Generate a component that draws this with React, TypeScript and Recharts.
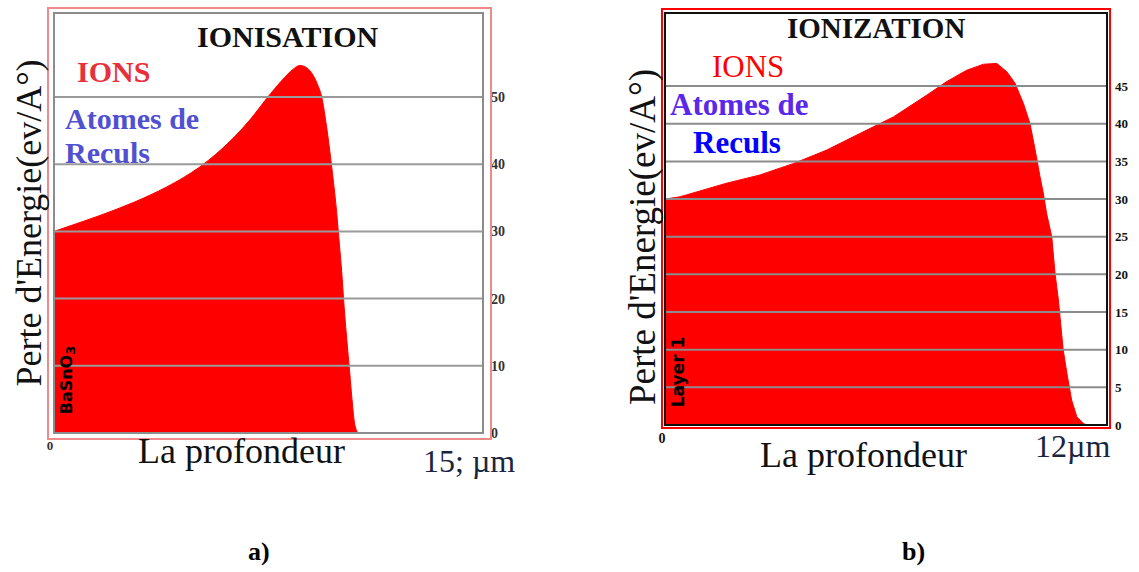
import React from 'react';
import { AreaChart, Area, XAxis, YAxis, ReferenceLine, ReferenceArea } from 'recharts';

// ---- Chart a) BaSnO3 ----
const depthA = [0, 1.03, 2.19, 3.36, 4.52, 5.1, 5.69, 6.27, 6.85, 7.44, 8.02, 8.35, 8.6, 8.85, 9.05, 9.2, 9.36, 9.53, 9.71, 9.88, 9.98, 10.06, 10.14, 10.24, 10.34, 10.42, 10.52, 10.65, 15];
const ionsA = [30, 31.5, 33.3, 35.4, 38, 39.6, 41.6, 43.9, 46.6, 49.8, 52.7, 54.1, 54.7, 54.3, 53.3, 52, 50, 45.6, 39.6, 33, 28, 24, 19, 13.8, 9, 5, 1.2, 0, 0];
const ticksA = [0, 10, 20, 30, 40, 50];

// ---- Chart b) Layer 1 ----
const depthB = [0, 0.41, 1.67, 2.58, 3.48, 4.39, 5.29, 6.2, 7.11, 7.65, 8.19, 8.65, 9.01, 9.28, 9.5, 9.73, 9.91, 10.05, 10.18, 10.27, 10.36, 10.5, 10.59, 10.68, 10.81, 10.91, 11.04, 11.18, 11.36, 11.45, 12];
const ionsB = [30, 30.3, 32.1, 33.2, 34.7, 36.5, 38.7, 40.9, 43.8, 45.6, 47.1, 47.9, 48, 46.9, 45.4, 42.7, 40, 36.5, 33, 30.8, 28.1, 25, 20.1, 16.6, 10, 6.9, 3.3, 1.1, 0.2, 0, 0];
const ticksB = [0, 5, 10, 15, 20, 25, 30, 35, 40, 45];

const dataA = depthA.map((d, i) => ({ depth: d, ions: ionsA[i] }));
const dataB = depthB.map((d, i) => ({ depth: d, ions: ionsB[i] }));

const serif = '"Liberation Serif", "Times New Roman", serif';

function ChartA() {
  return (
    <div style={{ position: 'absolute', left: 0, top: 0 }}>
      <AreaChart width={560} height={480} data={dataA} margin={{ top: 13, left: 54, right: 47, bottom: 27 }}>
        <XAxis dataKey="depth" type="number" domain={[0, 15]} ticks={[0]} tickLine={false} axisLine={false} height={20}
          tick={{ fontFamily: serif, fontWeight: 'bold', fontSize: 13, fill: '#333' }} dx={-4} />
        <YAxis orientation="right" type="number" domain={[0, 62.5]} ticks={ticksA} width={30} tickLine={false} axisLine={false}
          tick={{ fontFamily: serif, fontWeight: 'bold', fontSize: 14, fill: '#333' }} />
        <Area type="monotone" dataKey="ions" fill="#ff0000" stroke="#ff0000" fillOpacity={1} isAnimationActive={false} dot={false} activeDot={false} />
        {ticksA.slice(1).map((t) => (
          <ReferenceLine key={t} y={t} stroke="#9a9a9a" strokeWidth={2} zIndex={700} />
        ))}
        <ReferenceArea x1={0} x2={15} y1={0} y2={62.5} fill="none" fillOpacity={0} stroke="#8c8c8c" strokeWidth={2} zIndex={700} />
      </AreaChart>
    </div>
  );
}

function ChartB() {
  return (
    <div style={{ position: 'absolute', left: 610, top: 0 }}>
      <AreaChart width={529} height={480} data={dataB} margin={{ top: 13, left: 55, right: 7, bottom: 35 }}>
        <XAxis dataKey="depth" type="number" domain={[0, 12]} ticks={[0]} tickLine={false} axisLine={false} height={20}
          tick={{ fontFamily: serif, fontWeight: 'bold', fontSize: 14, fill: '#111' }} dx={-3} />
        <YAxis orientation="right" type="number" domain={[0, 54.7]} ticks={ticksB} width={25} tickLine={false} axisLine={false}
          tick={{ fontFamily: serif, fontWeight: 'bold', fontSize: 13, fill: '#111' }} />
        <Area type="linear" dataKey="ions" fill="#ff0000" stroke="#ff0000" fillOpacity={1} isAnimationActive={false} dot={false} activeDot={false} />
        {ticksB.slice(1).map((t) => (
          <ReferenceLine key={t} y={t} stroke="#8c8c8c" strokeWidth={2} zIndex={700} />
        ))}
        <ReferenceArea x1={0} x2={12} y1={0} y2={54.7} fill="none" fillOpacity={0} stroke="#111" strokeWidth={2} zIndex={700} />
      </AreaChart>
    </div>
  );
}

function Overlay() {
  return (
    <svg width={1139} height={572} style={{ position: 'absolute', left: 0, top: 0, pointerEvents: 'none' }}>
      {/* outer frames */}
      <rect x={48} y={8} width={443} height={431} fill="none" stroke="#f08a8a" strokeWidth={2} />
      <rect x={662} y={9} width={448} height={419} fill="none" stroke="#ff0000" strokeWidth={2} />

      {/* chart a texts */}
      <text x={197} y={47} fontFamily={serif} fontWeight="bold" fontSize={30} fill="#111">IONISATION</text>
      <text x={77} y={82} fontFamily={serif} fontWeight="bold" fontSize={30} fill="#e8303a">IONS</text>
      <text x={65} y={129} fontFamily={serif} fontWeight="bold" fontSize={30} fill="#5050d0">Atomes de</text>
      <text x={65} y={163} fontFamily={serif} fontWeight="bold" fontSize={30} fill="#5050d0">Reculs</text>
      <text transform="translate(29,223) rotate(-90)" textAnchor="middle" dominantBaseline="central" fontFamily={serif} fontSize={36} fill="#111">Perte d'Energie(ev/A°)</text>
      <text transform="translate(66,380) rotate(-90)" textAnchor="middle" dominantBaseline="central" fontFamily='"DejaVu Sans", sans-serif' fontWeight="bold" fontSize={16} fill="#000">BaSnO<tspan dy={4} fontSize={13}>3</tspan></text>
      <text x={138} y={463} fontFamily={serif} fontSize={36} fill="#111">La profondeur</text>
      <text x={423} y={472} fontFamily={serif} fontSize={32} fill="#1a2540">15; µm</text>
      <text x={248} y={560} fontFamily={serif} fontWeight="bold" fontSize={26} fill="#000">a)</text>

      {/* chart b texts */}
      <text x={787} y={38} fontFamily={serif} fontWeight="bold" fontSize={29} fill="#111">IONIZATION</text>
      <text x={712} y={77} fontFamily={serif} fontSize={31} fill="#ff0000">IONS</text>
      <text x={670} y={115} fontFamily={serif} fontWeight="bold" fontSize={31} fill="#5a28e8">Atomes de</text>
      <text x={693} y={153} fontFamily={serif} fontWeight="bold" fontSize={31} fill="#0000ff">Reculs</text>
      <text transform="translate(642,237) rotate(-90)" textAnchor="middle" dominantBaseline="central" fontFamily={serif} fontSize={37} fill="#111">Perte d'Energie(ev/A°)</text>
      <text transform="translate(678,372) rotate(-90)" textAnchor="middle" dominantBaseline="central" fontFamily='"DejaVu Sans", sans-serif' fontWeight="bold" fontSize={17} fill="#000">Layer 1</text>
      <text x={760} y={467} fontFamily={serif} fontSize={36} fill="#111">La profondeur</text>
      <text x={1035} y={457} fontFamily={serif} fontSize={32} fill="#1a2540">12µm</text>
      <text x={902} y={560} fontFamily={serif} fontWeight="bold" fontSize={26} fill="#000">b)</text>
    </svg>
  );
}

export default function App() {
  return (
    <div style={{ position: 'absolute', left: 0, top: 0, width: 1139, height: 572, background: '#fff' }}>
      <ChartA />
      <ChartB />
      <Overlay />
    </div>
  );
}
